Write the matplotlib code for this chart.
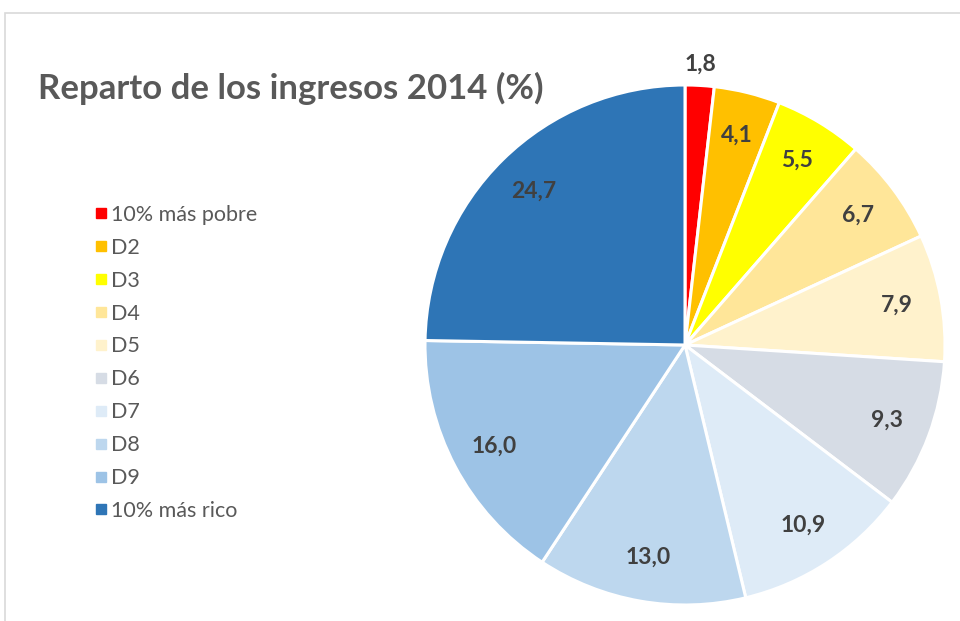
# Reparto de los ingresos 2014 (%) - gráfico de tarta por deciles
import matplotlib.pyplot as plt
from matplotlib.lines import Line2D
from matplotlib.patches import Rectangle

# Datos
categorias = ['10% más pobre', 'D2', 'D3', 'D4', 'D5', 'D6', 'D7', 'D8', 'D9', '10% más rico']
valores = [1.8, 4.1, 5.5, 6.7, 7.9, 9.3, 10.9, 13.0, 16.0, 24.7]
colores = ['#FF0000', '#FFC000', '#FFFF00', '#FFE699', '#FFF2CC',
           '#D6DCE5', '#DEEBF7', '#BDD7EE', '#9DC3E6', '#2E75B6']
etiquetas = [f'{v:.1f}'.replace('.', ',') for v in valores]

plt.rcParams['font.family'] = ['Lato', 'DejaVu Sans']

fig = plt.figure(figsize=(9.6, 6.21), dpi=100)
W, H = 960, 621

# Marco gris claro del gráfico
fig.patches.append(Rectangle((5 / W, -0.1), 1.2, 1 - 13 / H + 0.1,
                             transform=fig.transFigure, fill=False,
                             edgecolor='#D9D9D9', linewidth=1.2))

# Ejes de la tarta: centro (685, 345), radio 260 px
cx, cy, r = 685, 345, 260
ax = fig.add_axes([(cx - r) / W, 1 - (cy + r) / H, 2 * r / W, 2 * r / H])

wedges, textos = ax.pie(valores, colors=colores, startangle=90, counterclock=False,
                        labels=etiquetas, labeldistance=0.83,
                        wedgeprops=dict(edgecolor='white', linewidth=2.2),
                        textprops=dict(fontsize=16.5, fontweight='bold', color='#404040',
                                       ha='center', va='center'))
# La porción más pequeña lleva su etiqueta fuera
x, y = textos[0].get_position()
textos[0].set_position((x * 1.08 / 0.83, y * 1.08 / 0.83))
ax.set_xlim(-1, 1)
ax.set_ylim(-1, 1)
ax.set_aspect('equal')

# Título
fig.text(38 / W, 1 - 88 / H, 'Reparto de los ingresos 2014 (%)', fontsize=25,
         fontweight='bold', color='#595959', ha='left', va='center')

# Leyenda
handles = [Line2D([], [], linestyle='none', marker='s', markersize=7.5,
                  markerfacecolor=c, markeredgecolor=c) for c in colores]
fig.legend(handles, categorias, loc='upper left', bbox_to_anchor=(83 / W, 1 - 194 / H),
           frameon=False, fontsize=15.5, labelcolor='#595959', handlelength=0.7,
           handletextpad=0.1, labelspacing=0.6, borderpad=0)

fig.savefig('out.png', dpi=100)
